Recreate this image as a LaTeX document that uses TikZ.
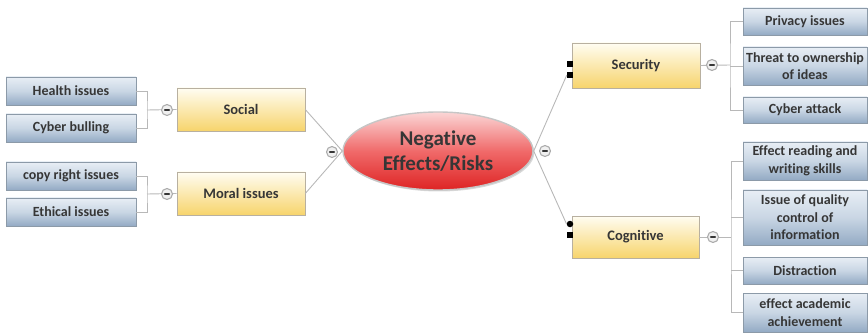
\documentclass[tikz,border=0pt]{standalone}
\usepackage{fontspec}
\setmainfont{Carlito}[Ligatures=NoCommon]
\usetikzlibrary{shapes.geometric,shadows}

\definecolor{txt}{HTML}{363636}
\definecolor{leaftop}{HTML}{E8EEF5}
\definecolor{leafmid}{HTML}{C9D6E4}
\definecolor{leafbot}{HTML}{93AAC4}
\definecolor{leafedge}{HTML}{8C9AA8}
\definecolor{topictop}{HTML}{FFFDF2}
\definecolor{topicbot}{HTML}{F7D46C}
\definecolor{topicedge}{HTML}{B8B0A0}
\definecolor{roottop}{HTML}{FBD6D6}
\definecolor{rootmid}{HTML}{F06A6A}
\definecolor{rootbot}{HTML}{DE2424}
\definecolor{wire}{HTML}{B8B8B8}

\tikzset{
  boxshadow/.style={drop shadow={shadow xshift=1.3pt, shadow yshift=-1.3pt, opacity=0.35, fill=gray}},
  leaf/.style={rectangle, draw=leafedge, line width=0.6pt,
    top color=leaftop, bottom color=leafbot, middle color=leafmid,
    minimum width=#1, inner sep=1pt, align=center, text=txt,
    font=\fontsize{14}{17.5}\selectfont\bfseries, boxshadow},
  leaf/.default=130pt,
  topic/.style={rectangle, draw=topicedge, line width=0.6pt,
    top color=topictop, bottom color=topicbot,
    minimum width=128pt, align=center, text=txt,
    font=\fontsize{14.5}{18}\selectfont\bfseries, boxshadow},
  rootnode/.style={ellipse, draw=gray!45, line width=1.4pt,
    top color=roottop, bottom color=rootbot, middle color=rootmid,
    minimum width=190pt, minimum height=78pt, inner sep=0pt, align=center,
    text=txt, font=\fontsize{21}{25}\selectfont\bfseries,
    drop shadow={shadow xshift=1.3pt, shadow yshift=-1.5pt, opacity=0.3, fill=gray}},
  fold/.style={circle, draw=gray!65, line width=1.1pt, fill=gray!12,
    minimum size=11pt, inner sep=0pt,
    path picture={\draw[line width=1.8pt, txt, line cap=round]
      ([xshift=-2.2pt]path picture bounding box.center) --
      ([xshift=2.2pt]path picture bounding box.center);}},
  conn/.style={draw=wire, line width=0.9pt},
  tag/.style={rectangle, fill=black, minimum size=6pt, inner sep=0pt},
  tagdot/.style={circle, fill=black, minimum size=6.5pt, inner sep=0pt},
}

\begin{document}
\begin{tikzpicture}[x=1pt,y=-1pt]
\useasboundingbox (0,0) rectangle (868,334);

% central topic
\node[rootnode] (root) at (438,151) {Negative\\Effects/Risks};

% main branches
\node[topic, minimum height=43pt] (social) at (241,109.5) {Social};
\node[topic, minimum height=43pt] (moral) at (241,193.5) {Moral issues};
\node[topic, minimum height=45pt] (security) at (636,65.5) {Security};
\node[topic, minimum height=42pt, minimum width=127pt] (cognitive) at (635.5,237) {Cognitive};

% left leaves
\node[leaf, minimum height=28pt] (health) at (71,91) {Health issues};
\node[leaf, minimum height=28pt] (bulling) at (71,128) {Cyber bulling};
\node[leaf, minimum height=28pt] (copyright) at (71,176) {copy right issues};
\node[leaf, minimum height=28pt] (ethical) at (71,212) {Ethical issues};

% right leaves
\node[leaf=124pt, minimum height=27pt] (privacy) at (805,21.5) {Privacy issues};
\node[leaf=124pt, minimum height=38pt] (threat) at (805,66) {Threat to ownership\\of ideas};
\node[leaf=124pt, minimum height=26pt] (cattack) at (805,110) {Cyber attack};
\node[leaf=124pt, minimum height=38pt] (reading) at (805,161) {Effect reading and\\writing skills};
\node[leaf=124pt, minimum height=55pt] (quality) at (805,217.5) {Issue of quality\\control of\\information};
\node[leaf=124pt, minimum height=27pt] (distraction) at (805,270.5) {Distraction};
\node[leaf=124pt, minimum height=39pt] (academic) at (805,312.5) {effect academic\\achievement};

% junction points of the brackets
\coordinate (sbr) at (147,110);
\coordinate (mbr) at (147,194);
\coordinate (secbr) at (730,65);
\coordinate (cogbr) at (731,237);

% markers beside the right branches
\node[tag] (sq1) at (570,64) {};
\node[tag] (sq2) at (570,75) {};
\node[tagdot] (cdot) at (570,224) {};
\node[tag] (csq) at (570,235) {};

% connectors from the central topic
\draw[conn] (social.east) -- (root.west);
\draw[conn] (moral.east) -- (root.west);
\draw[conn] (root.east) -- (sq2.west);
\draw[conn] (root.east) -- (cdot.west);

% left brackets
\draw[conn] (health.east) -| (sbr) |- (bulling.east);
\draw[conn] (sbr) -- (social.west);
\draw[conn] (copyright.east) -| (mbr) |- (ethical.east);
\draw[conn] (mbr) -- (moral.west);

% right brackets
\draw[conn] (privacy.west) -| (secbr) |- (cattack.west);
\draw[conn] (threat.west) -- (threat.west -| secbr);
\draw[conn] (security.east) -- (secbr);
\draw[conn] (reading.west) -| (cogbr) |- (academic.west);
\draw[conn] (quality.west) -- (quality.west -| cogbr);
\draw[conn] (distraction.west) -- (distraction.west -| cogbr);
\draw[conn] (cognitive.east) -- (cogbr);

% collapse buttons
\node[fold] (fsocial) at (167,110) {};
\node[fold] (fmoral) at (167,194) {};
\node[fold] (frootl) at (332,152) {};
\node[fold] (frootr) at (545,151) {};
\node[fold] (fsecurity) at (712,65) {};
\node[fold] (fcognitive) at (713,237) {};
\end{tikzpicture}
\end{document}
